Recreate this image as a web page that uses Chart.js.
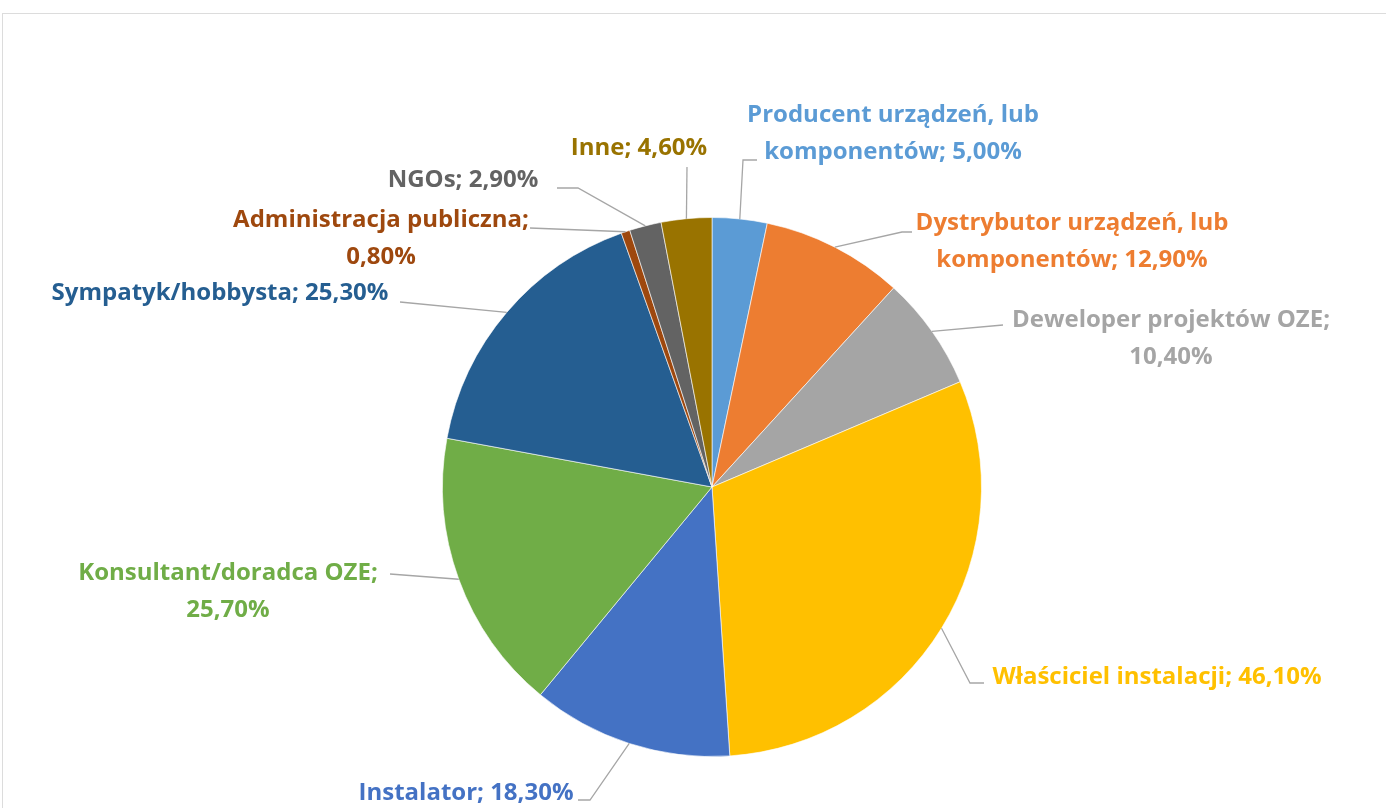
<!DOCTYPE html>
<html>
<head>
<meta charset="utf-8">
<script src="https://cdn.jsdelivr.net/npm/chart.js@4/dist/chart.umd.min.js"></script>
<style>
    html, body { margin: 0; padding: 0; background: #fff; overflow: hidden; }
    #frame { position: absolute; left: 2px; top: 13px; right: -10px; bottom: -10px; border-top: 1px solid #dcdcdc; border-left: 1px solid #dcdcdc; }
    canvas { position: absolute; left: 0; top: 0; }
</style>
</head>
<body>
<div id="frame"></div>
<canvas id="chart" width="1386" height="808"></canvas>
<script>
(function () {
    "use strict";

    const categories = [
        "Producent urządzeń, lub komponentów",
        "Dystrybutor urządzeń, lub komponentów",
        "Deweloper projektów OZE",
        "Właściciel instalacji",
        "Instalator",
        "Konsultant/doradca OZE",
        "Sympatyk/hobbysta",
        "Administracja publiczna",
        "NGOs",
        "Inne",
    ];
    const values = [5.0, 12.9, 10.4, 46.1, 18.3, 25.7, 25.3, 0.8, 2.9, 4.6];
    const colors = ["#5B9BD5", "#ED7D31", "#A5A5A5", "#FFC000", "#4472C4", "#70AD47", "#255E91", "#9E480E", "#636363", "#997300"];

    // label placement: centre x, first line y, words on first line, leader line points (label side)
    const labelLayout = [
        { x: 893, y: 115, wrap: 3, pts: [[743, 160], [757, 160]] },
        { x: 1072, y: 223, wrap: 3, pts: [[902, 232], [912, 232]] },
        { x: 1171, y: 320, wrap: 3, pts: [[1003, 325]] },
        { x: 1157, y: 677, wrap: 0, pts: [[970, 683], [984, 683]] },
        { x: 466, y: 793, wrap: 0, pts: [[590, 800], [578, 800]] },
        { x: 228, y: 573, wrap: 2, pts: [[390, 574]] },
        { x: 220, y: 293, wrap: 0, pts: [[400, 302]] },
        { x: 381, y: 220, wrap: 2, pts: [[530, 228]] },
        { x: 463, y: 180, wrap: 0, pts: [[578, 188], [557, 188]] },
        { x: 639, y: 148, wrap: 0, pts: [[687, 167]] },
    ];
    const LINE_H = 37;
    const FONT = "bold 24px 'Open Sans'";

    function fmt(v) { return v.toFixed(2).replace(".", ",") + "%"; }

    const leaderLabels = {
        id: "leaderLabels",
        afterDatasetsDraw(chart) {
            const ctx = chart.ctx;
            const arcs = chart.getDatasetMeta(0).data;
            ctx.save();
            arcs.forEach((arc, i) => {
                const p = arc.getProps(["x", "y", "startAngle", "endAngle", "outerRadius"], true);
                const mid = (p.startAngle + p.endAngle) / 2;
                const lay = labelLayout[i];
                ctx.strokeStyle = "#a6a6a6";
                ctx.lineWidth = 1.3;
                ctx.beginPath();
                ctx.moveTo(p.x + Math.cos(mid) * p.outerRadius, p.y + Math.sin(mid) * p.outerRadius);
                lay.pts.forEach((q) => ctx.lineTo(q[0], q[1]));
                ctx.stroke();

                const words = (categories[i] + "; " + fmt(values[i])).split(" ");
                const lines = lay.wrap ? [words.slice(0, lay.wrap).join(" "), words.slice(lay.wrap).join(" ")] : [words.join(" ")];
                ctx.fillStyle = colors[i];
                ctx.font = FONT;
                ctx.textAlign = "center";
                ctx.textBaseline = "middle";
                lines.forEach((t, k) => ctx.fillText(t, lay.x, lay.y + k * LINE_H));
            });
            ctx.restore();
        },
    };

    new Chart(document.getElementById("chart"), {
        type: "pie",
        data: {
            labels: categories,
            datasets: [{ data: values, backgroundColor: colors, borderColor: "rgba(255,255,255,0.6)", borderWidth: 1 }],
        },
        options: {
            responsive: false,
            animation: false,
            layout: { padding: { left: 442, right: 404, top: 217, bottom: 51 } },
            plugins: { legend: { display: false }, tooltip: { enabled: false } },
        },
        plugins: [leaderLabels],
    });
})();
</script>
</body>
</html>
